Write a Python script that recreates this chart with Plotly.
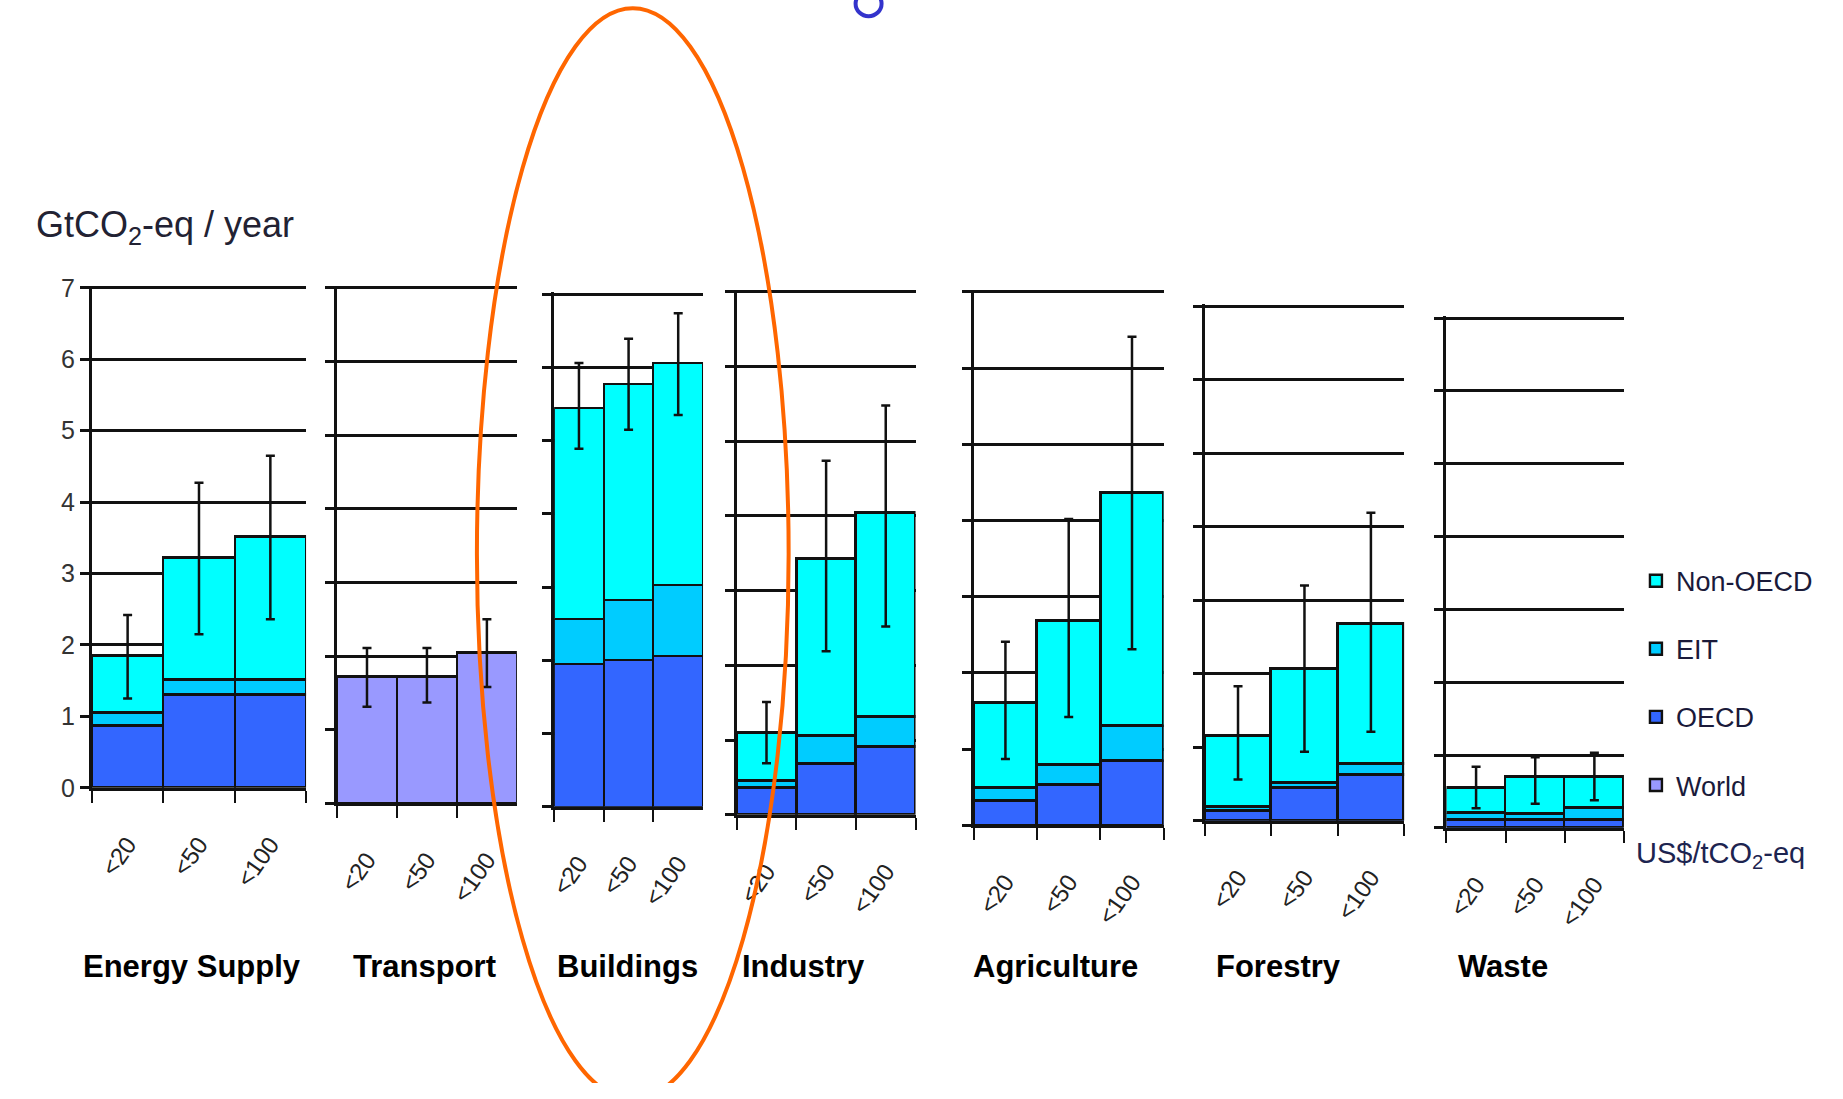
import plotly.graph_objects as go

# ---- data -------------------------------------------------------------
sectors = ["Energy Supply", "Transport", "Buildings", "Industry",
           "Agriculture", "Forestry", "Waste"]
price_labels = ["<20", "<50", "<100"]          # US$/tCO2-eq carbon price

# stacked segments (GtCO2-eq / year); Transport only has a World value
oecd = [[0.87, 1.31, 1.31], None, [1.95, 2.00, 2.06], [0.37, 0.69, 0.92],
        [0.32, 0.54, 0.85], [0.14, 0.45, 0.63], [0.11, 0.11, 0.11]]
eit = [[0.18, 0.21, 0.21], None, [0.62, 0.83, 0.97], [0.09, 0.37, 0.39],
       [0.17, 0.26, 0.46], [0.05, 0.06, 0.15], [0.09, 0.08, 0.16]]
non_oecd = [[0.80, 1.70, 1.99], None, [2.88, 2.95, 3.03], [0.64, 2.37, 2.74],
            [1.12, 1.89, 3.06], [0.96, 1.56, 1.90], [0.35, 0.51, 0.43]]
world = [None, [1.72, 1.72, 2.05], None, None, None, None, None]

# uncertainty range of the sector total
range_low = [[1.25, 2.15, 2.36], [1.31, 1.37, 1.58], [4.89, 5.15, 5.35],
             [0.69, 2.19, 2.52], [0.87, 1.42, 2.31], [0.56, 0.94, 1.21],
             [0.27, 0.33, 0.38]]
range_high = [[2.42, 4.27, 4.65], [2.11, 2.11, 2.50], [6.06, 6.39, 6.74],
              [1.51, 4.74, 5.48], [2.41, 4.02, 6.41], [1.83, 3.20, 4.19],
              [0.84, 0.97, 1.03]]

# ---- layout geometry, in pixels of the 1843x1099 frame -------------------
FIG_W, FIG_H = 1827, 1083
# placement of the figure canvas inside the frame
CANVAS_X0, CANVAS_SX = 5.7, 0.997
CANVAS_Y0, CANVAS_SY = 10.8, 0.977

panel_left = [90.7, 336, 553.3, 736, 973.3, 1204.5, 1446.4]
panel_right = [305, 516, 702.3, 915, 1163.3, 1404, 1624]
panel_base = [787.4, 802.9, 806.4, 814.5, 825, 820.4, 827.5]
panel_unit = [71.5, 73.7, 73.3, 74.8, 76.3, 73.6, 72.9]
sector_label_x = [190.6, 423.8, 626.5, 803, 1055, 1278, 1503]
Y_MAX = 7.03

FONT = "Liberation Sans, Arial, sans-serif"
C_NON = "#00FFFF"
C_EIT = "#00CCFF"
C_OECD = "#3366FF"
C_WORLD = "#9999FF"
INK = "#111111"


def px(x):
    """frame x pixel -> paper fraction"""
    return (x - CANVAS_X0) / CANVAS_SX / FIG_W


def py(y):
    """frame y pixel -> paper fraction"""
    return 1 - (y - CANVAS_Y0) / CANVAS_SY / FIG_H


fig = go.Figure()

for i, sector in enumerate(sectors):
    suffix = "" if i == 0 else str(i + 1)
    xa, ya = "x" + suffix, "y" + suffix
    bar_line = dict(color=INK, width=2.4)

    if world[i] is not None:
        segments = [("World", world[i], C_WORLD, 4)]
    else:
        segments = [("OECD", oecd[i], C_OECD, 3),
                    ("EIT", eit[i], C_EIT, 2),
                    ("Non-OECD", non_oecd[i], C_NON, 1)]

    totals = [0.0, 0.0, 0.0]
    for name, vals, color, rank in segments:
        first = (name == "World") or (i == 0)
        fig.add_trace(go.Bar(
            x=price_labels, y=vals, name=name, xaxis=xa, yaxis=ya,
            marker=dict(color=color, line=bar_line),
            legendgroup=name, legendrank=rank, showlegend=first,
            hoverinfo="skip"))
        totals = [t + v for t, v in zip(totals, vals)]

    fig.add_trace(go.Scatter(
        x=price_labels, y=totals, xaxis=xa, yaxis=ya, mode="markers",
        marker=dict(color="rgba(0,0,0,0)", size=2), showlegend=False,
        hoverinfo="skip",
        error_y=dict(type="data", symmetric=False,
                     array=[h - t for h, t in zip(range_high[i], totals)],
                     arrayminus=[t - l for t, l in zip(totals, range_low[i])],
                     color=INK, thickness=2.5, width=4.5)))

    top_px = panel_base[i] - Y_MAX * panel_unit[i]
    fig.layout["xaxis" + suffix] = dict(
        domain=[px(panel_left[i]), px(panel_right[i])], anchor=ya,
        type="category", range=[-0.5, 2.5], showgrid=False,
        showline=True, linecolor=INK, linewidth=3,
        ticks="outside", tickson="boundaries", ticklen=12, tickwidth=2,
        tickcolor=INK, tickangle=-55, ticklabelstandoff=30,
        tickfont=dict(family=FONT, size=24, color="#222222"))
    fig.layout["yaxis" + suffix] = dict(
        domain=[py(panel_base[i]), py(top_px)], anchor=xa,
        range=[0, Y_MAX], dtick=1, tick0=0, zeroline=False,
        showgrid=True, gridcolor=INK, gridwidth=3,
        showline=True, linecolor=INK, linewidth=3,
        ticks="outside", ticklen=9, tickwidth=3, tickcolor=INK,
        showticklabels=(i == 0),
        tickfont=dict(family=FONT, size=25, color="#333333"))

    fig.add_annotation(
        text="<b>" + sector + "</b>", xref="paper", yref="paper",
        x=px(sector_label_x[i]), y=py(966), xanchor="center", yanchor="middle",
        showarrow=False, font=dict(family=FONT, size=31, color="#000000"))

# axis titles
fig.add_annotation(
    text="GtCO<sub>2</sub>-eq / year", xref="paper", yref="paper",
    x=px(33), y=py(226), xanchor="left", yanchor="middle", showarrow=False,
    font=dict(family=FONT, size=36, color="#222233"))
fig.add_annotation(
    text="US$/tCO<sub>2</sub>-eq", xref="paper", yref="paper",
    x=px(1634), y=py(855), xanchor="left", yanchor="middle", showarrow=False,
    font=dict(family=FONT, size=29, color="#1d2450"))

shapes = [
    # cut-off glyph at the top edge
    dict(type="circle", xref="paper", yref="paper",
         x0=px(855), x1=px(881), y0=py(15), y1=py(-10),
         line=dict(color="#3333CC", width=4)),
    # highlight around the Buildings sector
    dict(type="circle", xref="paper", yref="paper",
         x0=px(476), x1=px(788), y0=py(1099), y1=py(7),
         line=dict(color="#FF6600", width=4)),
]

fig.update_layout(
    width=FIG_W, height=FIG_H, margin=dict(l=0, r=0, t=0, b=0),
    paper_bgcolor="#FFFFFF", plot_bgcolor="rgba(0,0,0,0)",
    barmode="stack", bargap=0,
    showlegend=True,
    legend=dict(x=px(1636), y=py(556), xanchor="left", yanchor="top",
                traceorder="grouped", tracegroupgap=30, itemwidth=30,
                bgcolor="rgba(0,0,0,0)",
                font=dict(family=FONT, size=27, color="#1a1a3a")),
    shapes=shapes,
)

fig.write_html("out.html")
